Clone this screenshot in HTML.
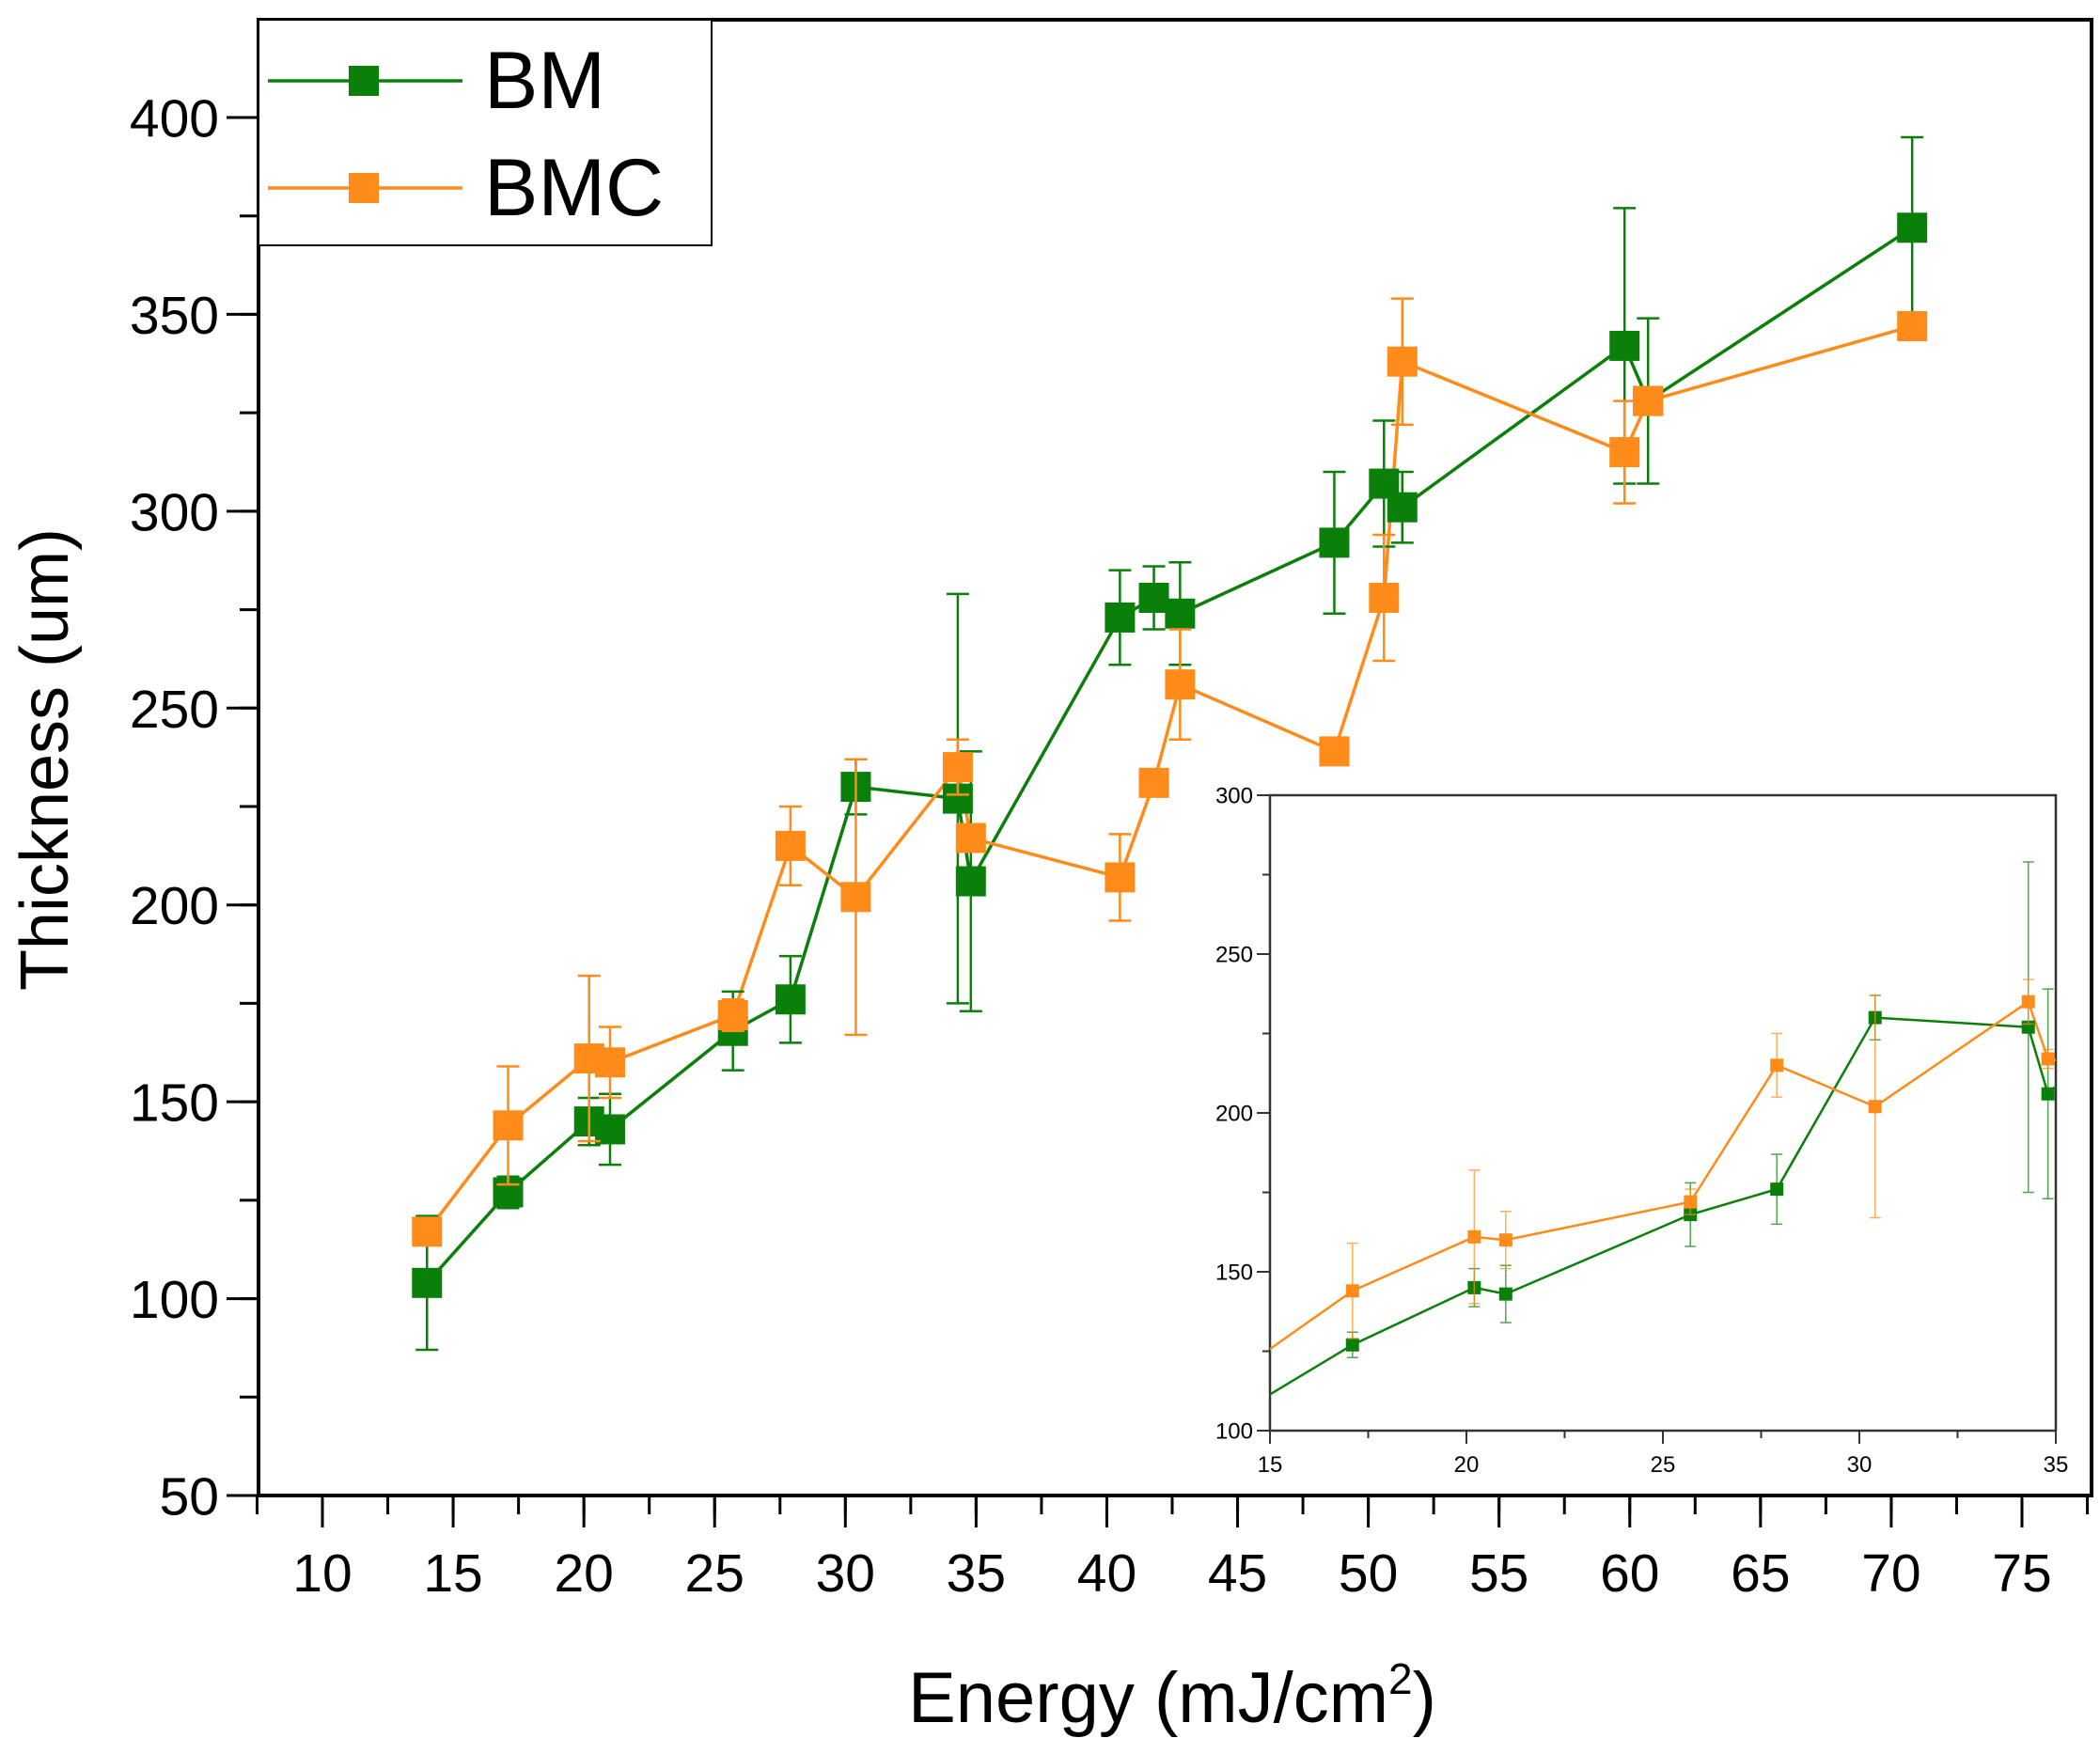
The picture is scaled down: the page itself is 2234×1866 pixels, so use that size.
<!DOCTYPE html>
<html><head><meta charset="utf-8"><style>
html,body{margin:0;padding:0;background:#fff;}
svg{display:block;font-family:"Liberation Sans",Arial,sans-serif;}
</style></head><body>
<svg id="chart" width="2234" height="1866" viewBox="0 0 2234 1866" xmlns="http://www.w3.org/2000/svg">
<rect x="0" y="0" width="2234" height="1866" fill="#fff"/>
<defs><clipPath id="insetClip"><rect x="1351" y="846" width="836" height="676"/></clipPath></defs>
<g id="main"></g>
<g id="inset"></g>
<text x="1247" y="1832" font-size="76" text-anchor="middle">Energy (mJ/cm<tspan dy="-30" font-size="46">2</tspan><tspan dy="30">)</tspan></text>
<text transform="translate(72,808) rotate(-90)" font-size="72" text-anchor="middle">Thickness (um)</text>
<g>
<rect x="275" y="21" width="482" height="240" fill="#fff" stroke="#000" stroke-width="2"/>
<line x1="285" y1="86" x2="492" y2="86" stroke="#0a800a" stroke-width="3.5"/>
<rect x="371" y="70" width="32" height="32" fill="#0a800a"/>
<text x="515" y="115" font-size="86">BM</text>
<line x1="285" y1="200" x2="492" y2="200" stroke="#ff8c1a" stroke-width="3.5"/>
<rect x="371" y="184" width="32" height="32" fill="#ff8c1a"/>
<text x="515" y="229" font-size="86">BMC</text>
</g>
</svg>
<script>
const xs = [14, 17.1, 20.2, 21, 25.7, 27.9, 30.4, 34.3, 34.8, 40.5, 41.8, 42.8, 48.7, 50.6, 51.3, 59.8, 60.7, 70.8];
const bmVals = [104, 127, 145, 143, 168, 176, 230, 227, 206, 273, 278, 274, 292, 307, 301, 342, 328, 372];
const bmErr = [17, 4, 6, 9, 10, 11, 7, 52, 33, 12, 8, 13, 18, 16, 9, 35, 21, 23];
const bmcVals = [117, 144, 161, 160, 172, 215, 202, 235, 217, 207, 231, 256, 239, 278, 338, 315, 328, 347];
const bmcErr = [3, 15, 21, 9, 4, 10, 35, 7, 3, 11, 3, 14, 3, 16, 16, 13, 3, 3];
const xTicks = [10, 15, 20, 25, 30, 35, 40, 45, 50, 55, 60, 65, 70, 75];
const yTicks = [50, 100, 150, 200, 250, 300, 350, 400];
const insetXTicks = [15, 20, 25, 30, 35];
const insetYTicks = [100, 150, 200, 250, 300];

const NS = "http://www.w3.org/2000/svg";
function el(parent, tag, attrs, text){
  const e = document.createElementNS(NS, tag);
  for (const k in attrs) e.setAttribute(k, attrs[k]);
  if (text !== undefined) e.textContent = text;
  parent.appendChild(e);
  return e;
}
const GREEN = "#0a800a", ORANGE = "#ff8c1a";

function drawPanel(g, cfg){
  const sx = v => cfg.x0 + (v - cfg.xmin) / (cfg.xmax - cfg.xmin) * (cfg.x1 - cfg.x0);
  const sy = v => cfg.y0 - (v - cfg.ymin) / (cfg.ymax - cfg.ymin) * (cfg.y0 - cfg.y1);
  const fr = el(g, "rect", {x: cfg.fx0, y: cfg.fy1, width: cfg.fx1 - cfg.fx0, height: cfg.fy0 - cfg.fy1, fill: "#fff", stroke: cfg.frameColor, "stroke-width": cfg.frameW});
  
  
  for (let i = 0; i < cfg.xTicks.length; i++){
    const v = cfg.xTicks[i], px = sx(v);
    const t = el(g, "line", {x1: px, y1: cfg.fy0, x2: px, y2: cfg.fy0 + cfg.majorLen, stroke: cfg.frameColor, "stroke-width": cfg.tickW});
    
    
    const lb = el(g, "text", {x: px, y: cfg.fy0 + cfg.xLabelDy, "font-size": cfg.fontSize, "text-anchor": "middle"}, String(v));
    
    
  }
  for (let v = cfg.xMinorStart; v <= cfg.xMinorEnd + 0.001; v += cfg.xStep){
    const px = sx(v);
    el(g, "line", {x1: px, y1: cfg.fy0, x2: px, y2: cfg.fy0 + cfg.minorLen, stroke: cfg.frameColor, "stroke-width": cfg.tickW});
  }
  for (let i = 0; i < cfg.yTicks.length; i++){
    const v = cfg.yTicks[i], py = sy(v);
    const t = el(g, "line", {x1: cfg.fx0 - cfg.majorLen, y1: py, x2: cfg.fx0, y2: py, stroke: cfg.frameColor, "stroke-width": cfg.tickW});
    
    
    const lb = el(g, "text", {x: cfg.fx0 - cfg.yLabelDx, y: py + cfg.fontSize * 0.36, "font-size": cfg.fontSize, "text-anchor": "end"}, String(v));
    
    
  }
  for (let v = cfg.ymin; v <= cfg.yMinorEnd + 0.001; v += cfg.yStep){
    const py = sy(v);
    el(g, "line", {x1: cfg.fx0 - cfg.minorLen, y1: py, x2: cfg.fx0, y2: py, stroke: cfg.frameColor, "stroke-width": cfg.tickW});
  }
  const data = document.createElementNS(NS, "g");
  g.appendChild(data);
  if (cfg.clip) data.setAttribute("clip-path", "url(#insetClip)");
  const series = [
    {name: "bm", vals: bmVals, err: bmErr, color: GREEN},
    {name: "bmc", vals: bmcVals, err: bmcErr, color: ORANGE}
  ];
  for (const s of series){
    const pts = xs.map((x, i) => sx(x) + "," + sy(s.vals[i])).join(" ");
    const pl = el(data, "polyline", {points: pts, fill: "none", stroke: s.color, "stroke-width": cfg.lineW, "stroke-linejoin": "round"});
    
    
  }
  for (const s of series){
    for (let i = 0; i < xs.length; i++){
      const px = sx(xs[i]), lo = sy(s.vals[i] - s.err[i]), hi = sy(s.vals[i] + s.err[i]);
      const eg = el(data, "g", {stroke: s.color, "stroke-width": cfg.errW, opacity: cfg.errOp});
      
      
      el(eg, "line", {x1: px, y1: lo, x2: px, y2: hi});
      el(eg, "line", {x1: px - cfg.cap, y1: lo, x2: px + cfg.cap, y2: lo});
      el(eg, "line", {x1: px - cfg.cap, y1: hi, x2: px + cfg.cap, y2: hi});
    }
    for (let i = 0; i < xs.length; i++){
      const m = el(data, "rect", {x: sx(xs[i]) - cfg.ms / 2, y: sy(s.vals[i]) - cfg.ms / 2, width: cfg.ms, height: cfg.ms, fill: s.color});
      
      
    }
  }
}

drawPanel(document.getElementById("main"), {
  prefix: "", xTicks: xTicks, yTicks: yTicks,
  xmin: 10, xmax: 75, x0: 343, x1: 2151, ymin: 50, ymax: 400, y0: 1591, y1: 125,
  fx0: 275, fx1: 2225, fy0: 1591, fy1: 21, frameColor: "#000", frameW: 4, tickW: 3,
  majorLen: 34, minorLen: 20, fontSize: 57, xLabelDy: 102, yLabelDx: 42,
  xMinorStart: 7.5, xMinorEnd: 77.5, xStep: 2.5, yMinorEnd: 400, yStep: 25,
  lineW: 3.5, errW: 2.5, errOp: 1, cap: 12, ms: 32, clip: false
});
drawPanel(document.getElementById("inset"), {
  prefix: "inset-", xTicks: insetXTicks, yTicks: insetYTicks,
  xmin: 15, xmax: 35, x0: 1351, x1: 2187, ymin: 100, ymax: 300, y0: 1522, y1: 846,
  fx0: 1351, fx1: 2187, fy0: 1522, fy1: 846, frameColor: "#333", frameW: 2.5, tickW: 2,
  majorLen: 14, minorLen: 8, fontSize: 24, xLabelDy: 44, yLabelDx: 18,
  xMinorStart: 15, xMinorEnd: 35, xStep: 2.5, yMinorEnd: 300, yStep: 25,
  lineW: 2.5, errW: 1.5, errOp: 0.7, cap: 6, ms: 14, clip: true
});
</script>
</body></html>
